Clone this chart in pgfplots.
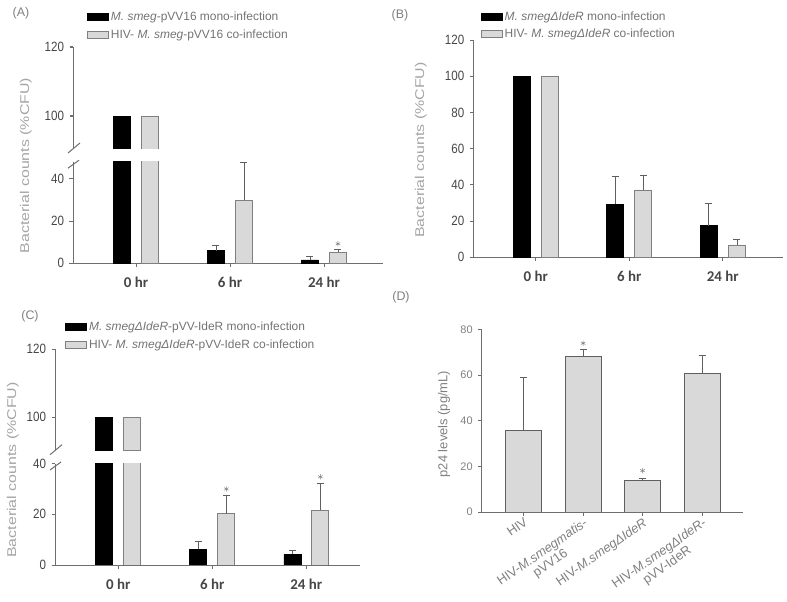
\documentclass[border=0pt]{standalone}
\usepackage{fontspec}
\setmainfont{Liberation Sans}
\newfontfamily\calibri{Carlito}
\usepackage{graphicx}
\usepackage{pgfplots}
\pgfplotsset{compat=1.18}

\definecolor{axiscol}{RGB}{110,110,110}
\definecolor{ticktext}{RGB}{70,70,70}
\definecolor{labeltext}{RGB}{165,165,165}
\definecolor{legtext}{RGB}{115,115,115}
\definecolor{barfill}{RGB}{217,217,217}
\definecolor{bardraw}{RGB}{128,128,128}
\definecolor{errcol}{RGB}{95,95,95}
\definecolor{dtext}{RGB}{128,128,128}

\pgfplotsset{
  base/.style={
    scale only axis,
    axis x line*=bottom, axis y line*=left,
    axis line style={draw=axiscol, line width=0.8bp},
    tick style={draw=axiscol, line width=0.8bp},
    tick align=outside, major tick length=3.5bp,
    clip mode=individual, clip marker paths=false,
    /pgf/number format/assume math mode=true,
    legend image code/.code={\draw[##1] (0bp,-3.5bp) rectangle (21bp,3.5bp);},
  },
  hrs/.style={
    base,
    xtick={0,1,2}, xticklabels={0 hr,6 hr,24 hr},
    xticklabel style={font=\calibri\bfseries\fontsize{15}{15}\selectfont, text=ticktext, yshift=-7bp},
    yticklabel={\scalebox{0.86}[1]{\pgfmathprintnumber{\tick}}},
    yticklabel style={font=\fontsize{13.5}{14}\selectfont, text=ticktext, xshift=-2bp},
    ylabel style={anchor=center, font=\fontsize{16}{16}\selectfont, text=labeltext},
    legend style={draw=none, fill=none, inner sep=0pt, row sep=3bp,
      font=\fontsize{12}{13}\selectfont, text=legtext, anchor=north west},
    legend cell align=left,
  },
  upper/.style={xtick=\empty, x axis line style={draw=none}},
  blk/.style={ybar, bar width=17bp, bar shift=-14bp, fill=black, draw=black, line width=0.6bp},
  gry/.style={ybar, bar width=17bp, bar shift=14bp, fill=barfill, draw=bardraw, line width=0.8bp},
  err/.style={draw=none, mark=none, forget plot,
    error bars/.cd, y dir=plus, y explicit,
    error bar style={draw=errcol, line width=0.7bp},
    error mark options={rotate=90, mark size=3.5bp, draw=errcol, line width=0.7bp}},
  star/.style={only marks, mark=asterisk, mark size=2.6bp, draw=dtext, mark options={line width=0.5bp}, forget plot},
}

\begin{document}
\begin{tikzpicture}
% ---------------- (A) ----------------
\begin{axis}[hrs, at={(73bp,338.7bp)}, anchor=south west, width=310bp, height=101.6bp,
  xmin=-0.670, xmax=2.628, ymin=0, ymax=48, ytick={0,20,40},
  ylabel={\scalebox{1}[0.8]{Bacterial counts (\%CFU)}},
  ylabel style={at={(axis description cs:-0.152,0.963)}},
  legend style={at={(axis description cs:0.045,2.493)}}]
\addplot[blk] coordinates {(0,100) (1,6.0) (2,1.6)};
\addlegendentry{\textit{M. smeg}-pVV16 mono-infection}
\addplot[gry] coordinates {(0,100) (1,29.7) (2,5.2)};
\addlegendentry{HIV- \textit{M. smeg}-pVV16 co-infection}
\addplot[err] coordinates {(0.851,6.0) +- (0,2.4) (1.851,1.6) +- (0,1.5)};
\addplot[err] coordinates {(1.149,29.7) +- (0,17.9) (2.149,5.2) +- (0,1.5)};
\addplot[star] coordinates {(1.149,50.9) (2.149,9.2)};
\end{axis}
\begin{axis}[hrs, upper, at={(73bp,453bp)}, anchor=south west, width=310bp, height=102bp,
  xmin=-0.670, xmax=2.628, ymin=90.4, ymax=120, ytick={100,120}]
\addplot[blk] coordinates {(0,100)};
\addplot[gry] coordinates {(0,100)};
\end{axis}

% ---------------- (B) ----------------
\begin{axis}[hrs, at={(473.3bp,344.7bp)}, anchor=south west, width=309.4bp, height=217.2bp,
  xmin=-0.667, xmax=2.64, ymin=0, ymax=120, ytick={0,20,...,120},
  ylabel={\scalebox{1}[0.8]{Bacterial counts (\%CFU)}},
  ylabel style={at={(axis description cs:-0.17,0.494)}},
  legend style={at={(axis description cs:0.024,1.141)}}]
\addplot[blk] coordinates {(0,100) (1,29.3) (2,17.5)};
\addlegendentry{\textit{M. smegΔIdeR} mono-infection}
\addplot[gry] coordinates {(0,100) (1,37.2) (2,6.8)};
\addlegendentry{HIV- \textit{M. smegΔIdeR} co-infection}
\addplot[err] coordinates {(0.850,29.3) +- (0,15.6) (1.850,17.5) +- (0,12.3)};
\addplot[err] coordinates {(1.150,37.2) +- (0,8.1) (2.150,6.8) +- (0,2.9)};
\end{axis}

% ---------------- (C) ----------------
\begin{axis}[hrs, at={(55bp,37bp)}, anchor=south west, width=305bp, height=101.4bp,
  xmin=-0.673, xmax=2.571, ymin=0, ymax=40, ytick={0,20,40},
  ylabel={\scalebox{1}[0.8]{Bacterial counts (\%CFU)}},
  ylabel style={at={(axis description cs:-0.138,0.937)}},
  legend style={at={(axis description cs:0.033,2.416)}}]
\addplot[blk] coordinates {(0,100) (1,6.3) (2,4.2)};
\addlegendentry{\textit{M. smegΔIdeR}-pVV-IdeR mono-infection}
\addplot[gry] coordinates {(0,100) (1,20.2) (2,21.6)};
\addlegendentry{HIV- \textit{M. smegΔIdeR}-pVV-IdeR co-infection}
\addplot[err] coordinates {(0.851,6.3) +- (0,2.9) (1.851,4.2) +- (0,1.7)};
\addplot[err] coordinates {(1.149,20.2) +- (0,7.1) (2.149,21.6) +- (0,10.6)};
\addplot[star] coordinates {(1.149,30.0) (2.149,34.8)};
\end{axis}
\begin{axis}[hrs, upper, at={(55bp,151.3bp)}, anchor=south west, width=305bp, height=101.4bp,
  xmin=-0.673, xmax=2.571, ymin=90.2, ymax=120, ytick={100,120}]
\addplot[blk] coordinates {(0,100)};
\addplot[gry] coordinates {(0,100)};
\end{axis}

% ---------------- (D) ----------------
\begin{axis}[base, at={(481.7bp,90bp)}, anchor=south west, width=261.3bp, height=182.7bp,
  xmin=-0.707, xmax=3.69, ymin=0, ymax=80, ytick={0,20,...,80},
  xtick={0,1,2,3},
  xticklabels={HIV, {HIV-\textit{M.smegmatis}-\\pVV16}, {HIV-\textit{M.smegΔIdeR}}, {HIV-\textit{M.smegΔIdeR}-\\pVV-IdeR}},
  xticklabel style={rotate=35, anchor=north east, align=center, font=\fontsize{13}{14}\selectfont, text=dtext, inner sep=1bp},
  yticklabel style={font=\fontsize{11}{12}\selectfont, text=dtext, xshift=-2bp},
  ylabel={p24 levels (pg/mL)},
  ylabel style={at={(axis description cs:-0.144,0.482)}, anchor=center, font=\fontsize{13}{14}\selectfont, text=dtext}]
\addplot[ybar, bar width=36bp, fill=barfill, draw=errcol, line width=0.8bp]
  coordinates {(0,35.9) (1,68.0) (2,13.7) (3,60.7)};
\addplot[err] coordinates {(0,35.9) +- (0,22.9) (1,68.0) +- (0,3.2) (2,13.7) +- (0,1.0) (3,60.7) +- (0,7.8)};
\addplot[star] coordinates {(1,73.9) (2,18.1)};
\end{axis}

% broken y axes of (A) and (C): upper axis lines, ticks and break marks
\begin{scope}[draw=axiscol, line width=1bp]
\draw (73bp,458bp) -- (73bp,555bp);
\draw (73bp,486.1bp) -- (69.5bp,486.1bp);
\draw (73bp,555bp) -- (69.5bp,555bp);
\draw (68bp,449bp) -- (80bp,459bp);
\draw (68bp,433.8bp) -- (79bp,441.8bp);
\draw (55bp,156.3bp) -- (55bp,252.7bp);
\draw (55bp,184.65bp) -- (51.5bp,184.65bp);
\draw (55bp,252.7bp) -- (51.5bp,252.7bp);
\draw (50bp,147.3bp) -- (62bp,157.3bp);
\draw (50bp,132bp) -- (61bp,140bp);
\end{scope}

% panel letters
\node[text=dtext, font=\fontsize{12.5}{13}\selectfont] at (21bp,589bp) {(A)};
\node[text=dtext, font=\fontsize{12.5}{13}\selectfont] at (400bp,587bp) {(B)};
\node[text=dtext, font=\fontsize{12.5}{13}\selectfont] at (30bp,286bp) {(C)};
\node[text=dtext, font=\fontsize{12.5}{13}\selectfont] at (401bp,305bp) {(D)};

\pgfresetboundingbox
\path[use as bounding box] (0,0) rectangle (787bp,602bp);
\end{tikzpicture}
\end{document}
